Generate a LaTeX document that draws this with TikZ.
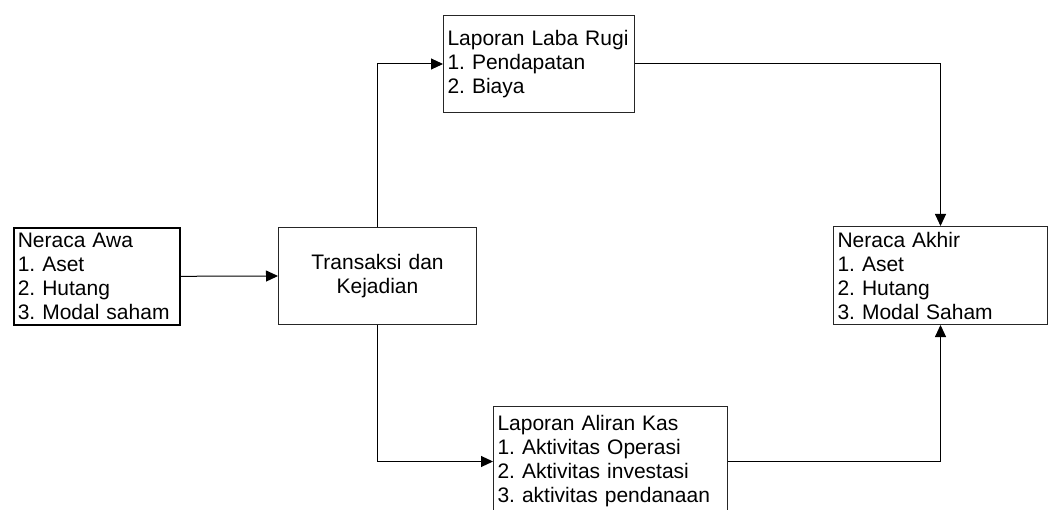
\documentclass[tikz,border=0pt]{standalone}
\usepackage{fontspec}
\setmainfont{Liberation Sans}
\frenchspacing
\usetikzlibrary{arrows.meta}
\tikzset{
  kotak/.style={draw=black!85, line width=1pt, rectangle, anchor=north west, inner xsep=4pt, inner ysep=0pt, align=left, font=\fontsize{21}{24}\selectfont},
  panah/.style={-{Triangle[length=12pt,width=11pt]}, line width=1pt}
}

\begin{document}
\begin{tikzpicture}[x=1pt, y=-1pt]
    \useasboundingbox (0,0) rectangle (1048,510);
    \clip (0,0) rectangle (1048,510);
    \node at (13,227) [kotak, draw=black, line width=1.6pt, text width=158pt, minimum width=166pt, minimum height=97pt] (awa) {Neraca Awa\\1. Aset\\2. Hutang\\3. Modal saham};
    \node at (278,227) [kotak, align=center, text width=190pt, minimum width=198pt, minimum height=97pt] (trans) {Transaksi dan\\Kejadian};
    \node at (443,15) [kotak, text width=183pt, minimum width=191pt, minimum height=97pt] (laba) {Laporan Laba Rugi\\1. Pendapatan\\2. Biaya};
    \node at (833,226) [kotak, text width=206pt, minimum width=214pt, minimum height=98pt] (akhir) {Neraca Akhir\\1. Aset\\2. Hutang\\3. Modal Saham};
    \node at (493,406) [kotak, text width=226pt, minimum width=234pt, minimum height=110pt] (kas) {Laporan Aliran Kas\\1. Aktivitas Operasi\\2. Aktivitas investasi\\3. aktivitas pendanaan};
    \draw [panah] (awa.east) -- (trans.west);
    \draw [panah] (trans.north) |- (laba.west);
    \draw [panah] (laba.east) -| (akhir.north);
    \draw [panah] (trans.south) |- (kas.west);
    \draw [panah] (kas.east) -| (akhir.south);
\end{tikzpicture}
\end{document}
